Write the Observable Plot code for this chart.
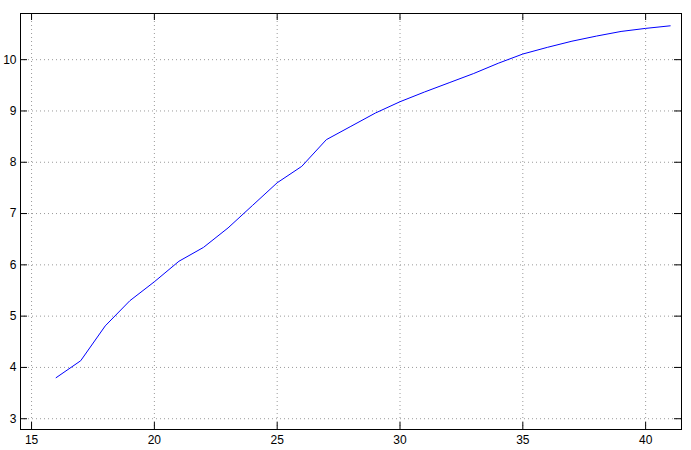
<!DOCTYPE html>
<html>
<head>
<meta charset="utf-8">
<script src="https://cdn.jsdelivr.net/npm/d3@7"></script>
<script src="https://cdn.jsdelivr.net/npm/@observablehq/plot@0.6"></script>
<style>
  html, body { margin: 0; padding: 0; background: #fff; }
  #chart svg { display: block; }
</style>
</head>
<body>
<div id="chart"></div>
<script>
const xValues = [16,17,18,19,20,21,22,23,24,25,26,27,28,29,30,31,32,33,34,35,36,37,38,39,40,41];
const yValues = [3.80,4.13,4.81,5.30,5.67,6.07,6.34,6.72,7.16,7.60,7.92,8.44,8.70,8.96,9.18,9.37,9.55,9.73,9.93,10.11,10.24,10.36,10.46,10.55,10.61,10.66];
const xTicks = [15,20,25,30,35,40];
const yTicks = [3,4,5,6,7,8,9,10];

const data = xValues.map((x, i) => ({x, y: yValues[i]}));

const W = 691, H = 450;
const mL = 20, mR = 10, mT = 13, mB = 21;
const pw = W - mL - mR, ph = H - mT - mB;
const tk = 7;

const chart = Plot.plot({
  width: W,
  height: H,
  marginLeft: mL,
  marginRight: mR,
  marginTop: mT,
  marginBottom: mB,
  style: {background: "#fff", fontFamily: "'Liberation Sans', Arial, sans-serif", fontSize: "12px", color: "#000"},
  x: {domain: [14.55, 41.46]},
  y: {domain: [2.79, 10.9]},
  marks: [
    Plot.gridX(xTicks, {stroke: "#9a9a9a", strokeOpacity: 1, strokeDasharray: "1,3"}),
    Plot.gridY(yTicks, {stroke: "#9a9a9a", strokeOpacity: 1, strokeDasharray: "1,3"}),
    Plot.line(data, {x: "x", y: "y", stroke: "#0000ff", strokeWidth: 1}),
    Plot.tickX(xTicks, {x: d => d, stroke: "#000", insetTop: ph - tk}),
    Plot.tickX(xTicks, {x: d => d, stroke: "#000", insetBottom: ph - tk}),
    Plot.tickY(yTicks, {y: d => d, stroke: "#000", insetRight: pw - tk}),
    Plot.tickY(yTicks, {y: d => d, stroke: "#000", insetLeft: pw - tk}),
    Plot.axisX(xTicks, {anchor: "bottom", tickSize: 0, tickPadding: 6, label: null, tickFormat: d => String(d), fill: "#000", fontSize: 12}),
    Plot.axisY(yTicks, {anchor: "left", tickSize: 0, tickPadding: 4, label: null, tickFormat: d => String(d), fill: "#000", fontSize: 12}),
    Plot.frame({stroke: "#000", strokeWidth: 1})
  ]
});
document.getElementById("chart").appendChild(chart);
</script>
</body>
</html>
